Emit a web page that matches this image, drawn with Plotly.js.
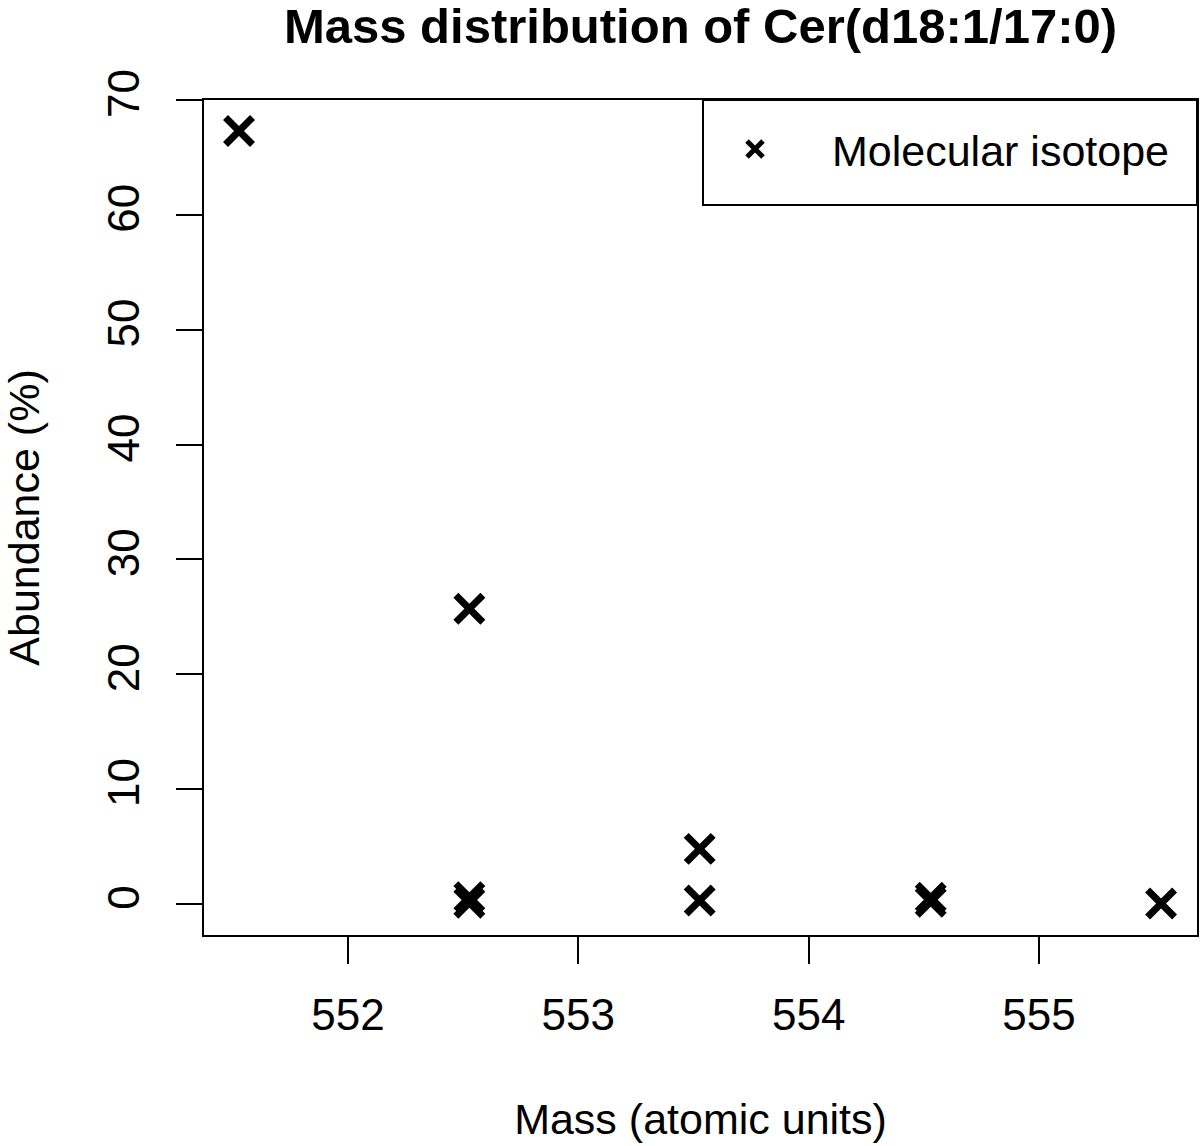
<!DOCTYPE html>
<html>
<head>
<meta charset="utf-8">
<script src="https://cdn.plot.ly/plotly-3.0.1.min.js"></script>
<style>html,body{margin:0;padding:0;background:#fff;}#chart{width:1200px;height:1146px;}</style>
</head>
<body>
<div id="chart"></div>
<script>
const mass = [551.527, 552.527, 552.527, 552.527, 553.527, 553.527, 554.53, 554.53, 555.53];
const abundance = [67.3, 25.7, 0.6, 0.1, 4.8, 0.3, 0.55, 0.2, 0.05];
const xTicks = [552, 553, 554, 555];
const yTicks = [0, 10, 20, 30, 40, 50, 60, 70];
const seriesName = "Molecular isotope";

const FONT = "Liberation Sans, Arial, Helvetica, sans-serif";
const trace = {
  x: mass, y: abundance, type: "scatter", mode: "markers", name: seriesName,
  marker: {symbol: "x-thin-open", size: 27, color: "#000", line: {color: "#000", width: 7}},
  showlegend: true
};
const layout = {
  width: 1200, height: 1146,
  margin: {l: 204, r: 3, t: 100, b: 211},
  paper_bgcolor: "#fff", plot_bgcolor: "#fff",
  font: {family: FONT, size: 43, color: "#000"},
  title: {text: "<b>Mass distribution of Cer(d18:1/17:0)</b>", font: {family: FONT, size: 49, color: "#000"},
          x: 0.5, xref: "paper", xanchor: "center", y: 1 - 26/1146, yref: "container", yanchor: "middle"},
  xaxis: {range: [551.375, 555.686], tickvals: xTicks, ticktext: xTicks.map(String),
          showgrid: false, zeroline: false, showline: true, mirror: true, linecolor: "#000", linewidth: 2,
          ticks: "outside", ticklen: 27, tickwidth: 2, tickcolor: "#000",
          tickfont: {family: FONT, size: 44}, ticklabelstandoff: 13,
          title: {text: "Mass (atomic units)", font: {family: FONT, size: 43}, standoff: 66}},
  yaxis: {range: [-2.7, 70], tickvals: yTicks, ticktext: yTicks.map(String),
          showgrid: false, zeroline: false, showline: true, mirror: true, linecolor: "#000", linewidth: 2,
          ticks: "outside", ticklen: 26, tickwidth: 2, tickcolor: "#000", tickangle: -90,
          tickfont: {family: FONT, size: 44}, ticklabelstandoff: 19,
          title: {text: "Abundance (%)", font: {family: FONT, size: 43}, standoff: 50}},
  legend: {x: (678 - 204) / 993, xanchor: "left", y: (935 - 114.5) / 835, yanchor: "top", xref: "paper", yref: "paper",
           borderwidth: 0, bgcolor: "rgba(0,0,0,0)",
           font: {family: FONT, size: 43}, itemwidth: 144},
  shapes: [{type: "rect", xref: "paper", yref: "paper",
            x0: (703 - 204) / 993, x1: 1, y0: (935 - 205) / 835, y1: 1,
            line: {color: "#000", width: 2}, fillcolor: "rgba(0,0,0,0)", layer: "above"}],
  showlegend: true
};
Plotly.newPlot("chart", [trace], layout, {displayModeBar: false, staticPlot: true});
</script>
</body>
</html>
